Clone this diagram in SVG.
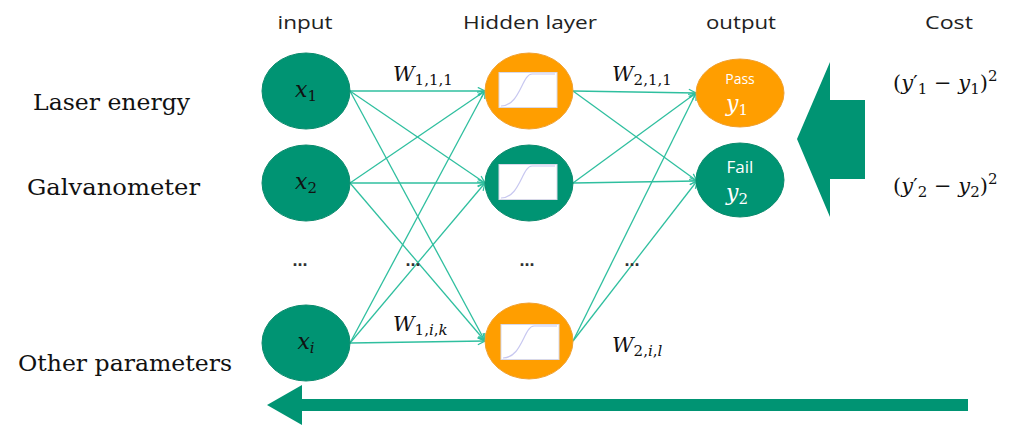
<svg xmlns="http://www.w3.org/2000/svg" width="1025" height="425" viewBox="0 0 1025 425">
  <style>
    .green { fill: #009473; stroke: #0a8a6c; stroke-width: 1; }
    .orange { fill: #FF9E00; stroke: #f0a030; stroke-width: 1; }
    .box { fill: #ffffff; stroke: #d8d8e8; stroke-width: 1; }
    .sig { fill: none; stroke: #c8c8f0; stroke-width: 1.2; }
    .head { font-family: "Open Sans", "Liberation Sans", sans-serif; font-size: 18px; fill: #222; text-anchor: middle; }
    .side { font-family: "DejaVu Serif", "Liberation Serif", serif; font-size: 22px; fill: #111; }
    .math { font-family: "DejaVu Serif", "Liberation Serif", serif; font-style: italic; font-size: 21px; fill: #111; }
    .sub { font-size: 15px; font-style: normal; }
    .subi { font-size: 15px; }
    .nodevar { font-family: "DejaVu Serif", "Liberation Serif", serif; font-style: italic; font-size: 22px; fill: #111; text-anchor: middle; }
    .white { fill: #ffffff; }
    .dots { font-family: "Liberation Sans", sans-serif; font-size: 18px; font-weight: bold; fill: #333; text-anchor: middle; }
    .conn line { stroke: #2fbf9f; stroke-width: 1.3; marker-end: url(#chev); }
  </style>
  <defs>
    <marker id="chev" viewBox="0 0 10 10" refX="9" refY="5" markerWidth="9" markerHeight="9" markerUnits="userSpaceOnUse" orient="auto">
      <path d="M1,1 L9,5 L1,9" fill="none" stroke="#2fbf9f" stroke-width="1.4"/>
    </marker>
    <g id="sigbox">
      <rect class="box" x="-29" y="-17.5" width="58" height="35"/>
      <path class="sig" d="M-27,16 C-8,16 -6,-16 4,-16 L27,-16"/>
    </g>
  </defs>

  <!-- column headings -->
  <text class="head" x="305" y="29" textLength="55" lengthAdjust="spacingAndGlyphs">input</text>
  <text class="head" x="530" y="29" textLength="134" lengthAdjust="spacingAndGlyphs">Hidden layer</text>
  <text class="head" x="741" y="29" textLength="70" lengthAdjust="spacingAndGlyphs">output</text>
  <text class="head" x="949" y="29" textLength="48" lengthAdjust="spacingAndGlyphs">Cost</text>

  <!-- parameter names -->
  <text class="side" x="33" y="110" textLength="157" lengthAdjust="spacingAndGlyphs">Laser energy</text>
  <text class="side" x="27" y="195" textLength="173" lengthAdjust="spacingAndGlyphs">Galvanometer</text>
  <text class="side" x="18" y="371" textLength="214" lengthAdjust="spacingAndGlyphs">Other parameters</text>

  <!-- connectors -->
  <g class="conn" id="connectors">
    <line x1="350" y1="91" x2="485" y2="91"/>
    <line x1="350" y1="91" x2="485" y2="183"/>
    <line x1="350" y1="91" x2="485" y2="341"/>
    <line x1="350" y1="183" x2="485" y2="91"/>
    <line x1="350" y1="183" x2="485" y2="183"/>
    <line x1="350" y1="183" x2="485" y2="341"/>
    <line x1="350" y1="343" x2="485" y2="91"/>
    <line x1="350" y1="343" x2="485" y2="183"/>
    <line x1="350" y1="343" x2="485" y2="341"/>
    <line x1="573" y1="91" x2="696" y2="93"/>
    <line x1="573" y1="91" x2="697" y2="181"/>
    <line x1="573" y1="183" x2="696" y2="93"/>
    <line x1="573" y1="183" x2="697" y2="181"/>
    <line x1="573" y1="341" x2="696" y2="93"/>
    <line x1="573" y1="341" x2="697" y2="181"/>
  </g>

  <!-- weight labels -->
  <text class="math" x="393" y="81">W<tspan class="sub" dy="4">1,1,1</tspan></text>
  <text class="math" x="612" y="81">W<tspan class="sub" dy="4">2,1,1</tspan></text>
  <text class="math" x="393" y="331">W<tspan class="sub" dy="4">1,</tspan><tspan class="subi">i</tspan><tspan class="sub">,</tspan><tspan class="subi">k</tspan></text>
  <text class="math" x="612" y="352">W<tspan class="sub" dy="4">2,</tspan><tspan class="subi">i</tspan><tspan class="sub">,</tspan><tspan class="subi">l</tspan></text>

  <!-- input nodes -->
  <g id="in1"><ellipse class="green" cx="306" cy="91" rx="44" ry="38"/><text class="nodevar" x="306" y="97">x<tspan class="sub" dy="4">1</tspan></text></g>
  <g id="in2"><ellipse class="green" cx="306" cy="183" rx="44" ry="38"/><text class="nodevar" x="306" y="189">x<tspan class="sub" dy="4">2</tspan></text></g>
  <g id="ini"><ellipse class="green" cx="306" cy="343" rx="44" ry="38"/><text class="nodevar" x="306" y="349">x<tspan class="subi" dy="4">i</tspan></text></g>

  <!-- hidden nodes -->
  <g id="h1"><ellipse class="orange" cx="529" cy="91" rx="44" ry="38"/><use href="#sigbox" x="528" y="90"/></g>
  <g id="h2"><ellipse class="green" cx="529" cy="183" rx="44" ry="38"/><use href="#sigbox" x="528" y="182"/></g>
  <g id="h3"><ellipse class="orange" cx="529" cy="341" rx="44" ry="38"/><use href="#sigbox" x="530" y="342"/></g>

  <!-- output nodes -->
  <g id="out1">
    <ellipse class="orange" cx="740" cy="93" rx="44" ry="34"/>
    <text class="head white" x="740" y="84" style="font-size:14px">Pass</text>
    <text class="nodevar white" x="737" y="111">y<tspan class="sub" dy="4">1</tspan></text>
  </g>
  <g id="out2">
    <ellipse class="green" cx="740" cy="180" rx="44" ry="37"/>
    <text class="head white" x="740" y="173" style="font-size:17px">Fail</text>
    <text class="nodevar white" x="737" y="200">y<tspan class="sub" dy="4">2</tspan></text>
  </g>

  <!-- ellipsis markers -->
  <text class="dots" x="300" y="266">...</text>
  <text class="dots" x="413" y="266">...</text>
  <text class="dots" x="527" y="266">...</text>
  <text class="dots" x="632" y="266">...</text>

  <!-- cost terms -->
  <text class="math" x="893" y="90" style="font-style:normal">(<tspan font-style="italic">y</tspan>′<tspan class="sub" dy="4">1</tspan><tspan dy="-4"> − </tspan><tspan font-style="italic">y</tspan><tspan class="sub" dy="4">1</tspan><tspan dy="-4">)</tspan><tspan class="sub" dy="-9">2</tspan></text>
  <text class="math" x="893" y="193" style="font-style:normal">(<tspan font-style="italic">y</tspan>′<tspan class="sub" dy="4">2</tspan><tspan dy="-4"> − </tspan><tspan font-style="italic">y</tspan><tspan class="sub" dy="4">2</tspan><tspan dy="-4">)</tspan><tspan class="sub" dy="-9">2</tspan></text>

  <!-- feedback arrows -->
  <polygon fill="#009473" points="797,139 830,62 830,100 865,100 865,179 830,179 830,217"/>
  <polygon fill="#009473" points="267,405 302,385 302,399 968,399 968,411 302,411 302,425"/>
</svg>
